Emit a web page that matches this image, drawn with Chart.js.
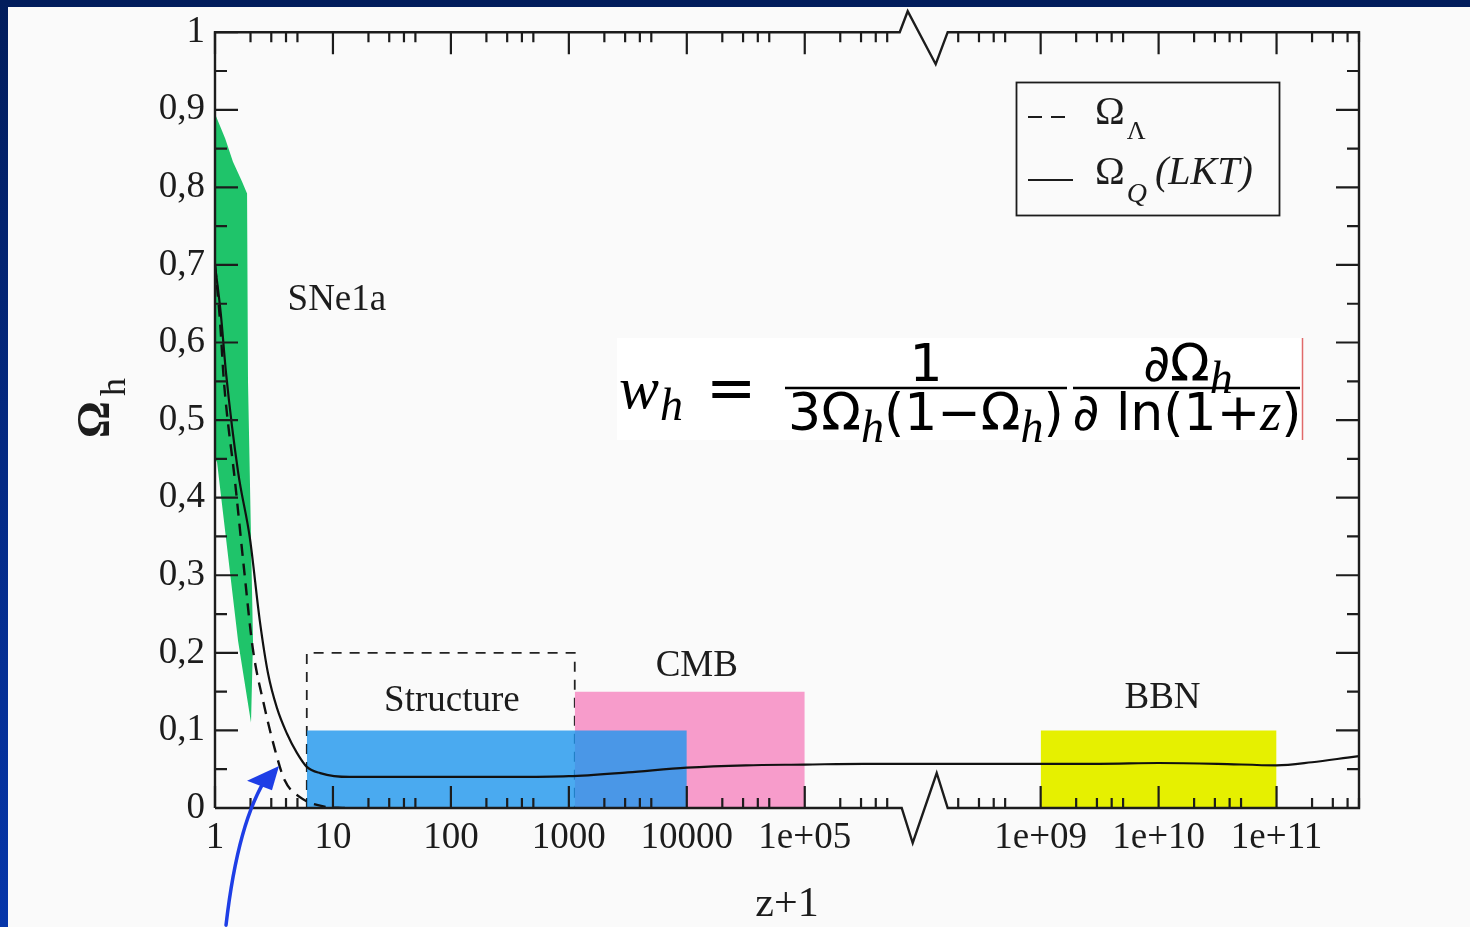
<!DOCTYPE html>
<html>
<head>
<meta charset="utf-8">
<script src="https://cdn.jsdelivr.net/npm/chart.js@4.4.1/dist/chart.umd.min.js"></script>
<style>
html, body { margin: 0; padding: 0; }
body { width: 1470px; height: 927px; overflow: hidden; position: relative; background: linear-gradient(#021d5c, #0636aa); }
#panel { position: absolute; left: 8px; top: 7px; right: 0; bottom: 0; background: #fafafa; }
#c { position: absolute; left: 0; top: 0; }
</style>
</head>
<body>
<div id="panel"></div>
<canvas id="c" width="1470" height="927"></canvas>
<script>
// x values are z+1, y values are Omega_h
var xTickZ = [1, 10, 100, 1000, 10000, 1e5, 1e9, 1e10, 1e11];
var xTickLabels = ['1', '10', '100', '1000', '10000', '1e+05', '1e+09', '1e+10', '1e+11'];
var xMinorDecades = [1, 10, 100, 1000, 10000, 1e5, 1e8, 1e9, 1e10, 1e11];
var yTicks = [0, 0.1, 0.2, 0.3, 0.4, 0.5, 0.6, 0.7, 0.8, 0.9, 1];
var yTickLabels = ['0', '0,1', '0,2', '0,3', '0,4', '0,5', '0,6', '0,7', '0,8', '0,9', '1'];

// Omega_Q (LKT), solid
var zQ = [1, 1.12, 1.24, 1.57, 1.98, 2.4, 2.82, 3.35, 4.07, 4.95, 6.0, 7.8, 13.8, 31.6, 100, 316, 1000, 3162, 1e4, 31623, 1e5, 316228, 1e6, 1e9, 3.16e9, 1e10, 3.16e10, 1e11, 2e11, 4e11, 5e11];
var omegaQ = [0.70, 0.637, 0.561, 0.433, 0.347, 0.241, 0.173, 0.129, 0.096, 0.071, 0.053, 0.045, 0.040, 0.040, 0.040, 0.040, 0.041, 0.046, 0.052, 0.055, 0.056, 0.057, 0.057, 0.057, 0.057, 0.058, 0.057, 0.055, 0.059, 0.065, 0.067];

// Omega_Lambda, dashed
var zL = [1, 1.10, 1.19, 1.48, 1.76, 2.09, 2.63, 3.24, 3.89, 5.25, 8.3, 12.6];
var omegaL = [0.70, 0.63, 0.55, 0.42, 0.309, 0.206, 0.13, 0.074, 0.036, 0.014, 0.002, 0];

// SNe1a band outline
var zSN = [1, 1.22, 1.42, 1.69, 1.87, 1.905, 2.10, 2.02, 1.57, 1.04, 1];
var ySN = [0.895, 0.863, 0.833, 0.808, 0.792, 0.549, 0.215, 0.110, 0.215, 0.446, 0.45];

// observational windows [from, to] in z+1, and heights
var structureZ = [6, 1122];  var structureTop = 0.2;
var lssZ = [6, 10000];       var lssTop = 0.1;
var cmbZ = [1122, 1e5];      var cmbTop = 0.15;
var bbnZ = [1e9, 1e11];      var bbnTop = 0.1;

var BREAK_FROM = 5.805, BREAK_TO = 6.212;  // where the axis is cut

function axisPos(z) {
    var L = Math.log10(z);
    return L > 7 ? L - 2 : L;
}
function pts(xs, ys) {
    return xs.map(function (z, i) { return { x: axisPos(z), y: ys[i] }; });
}
function bar(r, top) {
    return [{ x: axisPos(r[0]), y: top }, { x: axisPos(r[1]), y: top }];
}

var serif = '"Liberation Serif", "Times New Roman", serif';
var ink = '#1c1c1c';

var frame = {
    id: 'frame',
    afterDatasetsDraw: function (chart) {
        var ctx = chart.ctx, a = chart.chartArea, x = chart.scales.x, y = chart.scales.y;
        ctx.save();
        ctx.strokeStyle = ink;
        ctx.lineWidth = 2.2;
        ctx.beginPath();
        xTickZ.forEach(function (z) {
            var px = x.getPixelForValue(axisPos(z));
            ctx.moveTo(px, a.bottom); ctx.lineTo(px, a.bottom - 22);
            ctx.moveTo(px, a.top); ctx.lineTo(px, a.top + 22);
        });
        xMinorDecades.forEach(function (d) {
            for (var k = 2; k <= 5; k++) {
                var v = axisPos(k * d);
                if (v > x.max) continue;
                var px = x.getPixelForValue(v);
                ctx.moveTo(px, a.bottom); ctx.lineTo(px, a.bottom - 10);
                ctx.moveTo(px, a.top); ctx.lineTo(px, a.top + 10);
            }
        });
        for (var i = 0; i <= 20; i++) {
            var py = y.getPixelForValue(i * 0.05);
            var len = i % 2 === 0 ? 23 : 12;
            ctx.moveTo(a.left, py); ctx.lineTo(a.left + len, py);
            ctx.moveTo(a.right, py); ctx.lineTo(a.right - len, py);
        }
        ctx.stroke();

        var b0 = x.getPixelForValue(BREAK_FROM), b1 = x.getPixelForValue(BREAK_TO);
        ctx.lineWidth = 2.4;
        ctx.beginPath();
        ctx.moveTo(a.left, a.bottom);
        ctx.lineTo(a.left, a.top);
        ctx.lineTo(b0, a.top);
        ctx.lineTo(b0 + 8, a.top - 21);
        ctx.lineTo(b0 + 36, a.top + 32);
        ctx.lineTo(b1, a.top);
        ctx.lineTo(a.right, a.top);
        ctx.lineTo(a.right, a.bottom);
        ctx.lineTo(b1, a.bottom);
        ctx.lineTo(b0 + 37, a.bottom - 35);
        ctx.lineTo(b0 + 13, a.bottom + 35);
        ctx.lineTo(b0 + 2, a.bottom);
        ctx.lineTo(a.left, a.bottom);
        ctx.stroke();
        ctx.restore();
    }
};

function runText(ctx, parts, x, base, draw) {
    parts.forEach(function (p) {
        ctx.font = p[1];
        if (draw) ctx.fillText(p[0], x, base + (p[2] || 0));
        x += ctx.measureText(p[0]).width + (p[3] || 0);
    });
    return x;
}
function centered(ctx, parts, cx, base) {
    var w = runText(ctx, parts, 0, 0, false);
    runText(ctx, parts, cx - w / 2, base, true);
}

var notes = {
    id: 'notes',
    afterDatasetsDraw: function (chart) {
        var ctx = chart.ctx, x = chart.scales.x, y = chart.scales.y;
        ctx.save();
        ctx.fillStyle = ink;
        ctx.textAlign = 'center';
        ctx.textBaseline = 'middle';
        ctx.font = '37px ' + serif;
        [['SNe1a', 10.8, 0.655], ['Structure', 102, 0.138], ['CMB', 12160, 0.183], ['BBN', 1.08e10, 0.141]].forEach(function (n) {
            ctx.fillText(n[0], x.getPixelForValue(axisPos(n[1])), y.getPixelForValue(n[2]));
        });

        // y axis title
        ctx.textAlign = 'left';
        ctx.textBaseline = 'alphabetic';
        ctx.save();
        ctx.translate(109, 438);
        ctx.rotate(-Math.PI / 2);
        ctx.font = 'bold 46px ' + serif;
        ctx.fillText('\u03A9', 0, 0);
        ctx.font = '36px ' + serif;
        ctx.fillText('h', 42, 16);
        ctx.restore();

        // legend
        ctx.strokeStyle = ink;
        ctx.lineWidth = 1.8;
        ctx.strokeRect(1016.5, 82.5, 263, 133);
        ctx.lineWidth = 2;
        ctx.beginPath();
        ctx.setLineDash([14, 9]);
        ctx.moveTo(1028, 117); ctx.lineTo(1074, 117);
        ctx.stroke();
        ctx.setLineDash([]);
        ctx.beginPath();
        ctx.moveTo(1028, 180); ctx.lineTo(1073, 180);
        ctx.stroke();
        runText(ctx, [['\u03A9', '40px ' + serif, 0, 2], ['\u039B', '26px ' + serif, 15]], 1095, 124, true);
        runText(ctx, [['\u03A9', '40px ' + serif, 0, 2], ['Q', 'italic 28px ' + serif, 18, 8], ['(LKT)', 'italic 40px ' + serif]], 1095, 184, true);

        // formula box
        ctx.fillStyle = '#ffffff';
        ctx.fillRect(617, 338, 686, 102);
        ctx.strokeStyle = '#e06a6a';
        ctx.lineWidth = 1.5;
        ctx.beginPath(); ctx.moveTo(1302.5, 338); ctx.lineTo(1302.5, 440); ctx.stroke();
        ctx.fillStyle = '#000';
        ctx.strokeStyle = '#000';
        var up = '52px "DejaVu Sans", sans-serif';
        var it = 'italic 60px ' + serif;
        var sub = 'italic 46px ' + serif;
        runText(ctx, [['w', it, 0, 1], ['h', sub, 12]], 619, 408, true);
        ctx.font = '60px "DejaVu Sans", sans-serif';
        ctx.fillText('=', 706, 408);
        ctx.lineWidth = 2.5;
        ctx.beginPath();
        ctx.moveTo(785, 388); ctx.lineTo(1067, 388);
        ctx.moveTo(1073, 388); ctx.lineTo(1300, 388);
        ctx.stroke();
        centered(ctx, [['1', up]], 926, 381);
        centered(ctx, [['3\u03A9', up], ['h', sub, 12], ['(1\u2212\u03A9', up], ['h', sub, 12], [')', up]], 926, 430);
        centered(ctx, [['\u2202\u03A9', up], ['h', sub, 12]], 1188, 381);
        centered(ctx, [['\u2202 ln(1+', up], ['z', 'italic 54px ' + serif], [')', up]], 1187, 430);
        ctx.restore();
    },
    afterDraw: function (chart) {
        var ctx = chart.ctx, x = chart.scales.x, y = chart.scales.y;
        function P(z, v) { return [x.getPixelForValue(axisPos(z)), y.getPixelForValue(v)]; }
        var t = P(1.24, -0.151), c = P(1.57, -0.015), h = P(2.81, 0.042);
        var h1 = P(1.87, 0.035), h2 = P(3.49, 0.054), h3 = P(3.04, 0.023);
        ctx.save();
        ctx.strokeStyle = '#1e3ee6';
        ctx.fillStyle = '#1e3ee6';
        ctx.lineWidth = 3.5;
        ctx.lineCap = 'round';
        ctx.beginPath();
        ctx.moveTo(t[0], t[1]);
        ctx.quadraticCurveTo(c[0], c[1], h[0], h[1]);
        ctx.stroke();
        ctx.beginPath();
        ctx.moveTo(h1[0], h1[1]); ctx.lineTo(h2[0], h2[1]); ctx.lineTo(h3[0], h3[1]);
        ctx.closePath();
        ctx.fill();
        ctx.restore();
    }
};

new Chart(document.getElementById('c'), {
    type: 'line',
    data: {
        datasets: [
            { label: 'Omega_Q (LKT)', data: pts(zQ, omegaQ), borderColor: '#111', borderWidth: 2.2, cubicInterpolationMode: 'monotone', fill: false },
            { label: 'Omega_Lambda', data: pts(zL, omegaL), borderColor: '#111', borderWidth: 2.4, borderDash: [12, 8], cubicInterpolationMode: 'monotone', fill: false },
            { label: 'SNe1a', data: pts(zSN, ySN), borderWidth: 0, borderColor: 'rgba(0,0,0,0)', backgroundColor: '#1fc46a', fill: 'shape' },
            { label: 'BBN', data: bar(bbnZ, bbnTop), borderWidth: 0, borderColor: 'rgba(0,0,0,0)', backgroundColor: '#e6f000', fill: 'origin' },
            { label: 'LSS', data: bar(lssZ, lssTop), borderWidth: 0, borderColor: 'rgba(0,0,0,0)', backgroundColor: 'rgba(30,150,238,0.8)', fill: 'origin' },
            { label: 'CMB', data: bar(cmbZ, cmbTop), borderWidth: 0, borderColor: 'rgba(0,0,0,0)', backgroundColor: '#f79ccb', fill: 'origin' },
            { label: 'Structure', data: [{ x: axisPos(structureZ[0]), y: 0 }, { x: axisPos(structureZ[0]), y: structureTop }, { x: axisPos(structureZ[1]), y: structureTop }, { x: axisPos(structureZ[1]), y: 0 }], borderColor: '#222', borderWidth: 1.8, borderDash: [10, 8], fill: false }
        ]
    },
    options: {
        responsive: false,
        animation: false,
        layout: { padding: { left: 0, top: 28, right: 111, bottom: 0 } },
        elements: { point: { radius: 0 } },
        plugins: { legend: { display: false }, tooltip: { enabled: false } },
        scales: {
            x: {
                type: 'linear',
                min: 0,
                max: axisPos(5e11),
                afterBuildTicks: function (s) { s.ticks = xTickZ.map(function (z) { return { value: axisPos(z) }; }); },
                afterFit: function (s) { s.height = 119; },
                grid: { display: false, drawTicks: false },
                border: { display: false },
                ticks: {
                    autoSkip: false, maxRotation: 0, minRotation: 0, padding: 8, color: ink,
                    font: { family: serif, size: 37 },
                    callback: function (v, i) { return xTickLabels[i]; }
                },
                title: { display: true, text: 'z+1', padding: { top: 0, bottom: -3 }, color: ink, font: { family: serif, size: 42 } }
            },
            y: {
                type: 'linear',
                min: 0,
                max: 1,
                afterBuildTicks: function (s) { s.ticks = yTicks.map(function (v) { return { value: v }; }); },
                afterFit: function (s) { s.width = 215; },
                grid: { display: false, drawTicks: false },
                border: { display: false },
                ticks: {
                    padding: 10, color: ink,
                    font: { family: serif, size: 37 },
                    callback: function (v, i) { return yTickLabels[i]; }
                }
            }
        }
    },
    plugins: [frame, notes]
});
</script>
</body>
</html>
